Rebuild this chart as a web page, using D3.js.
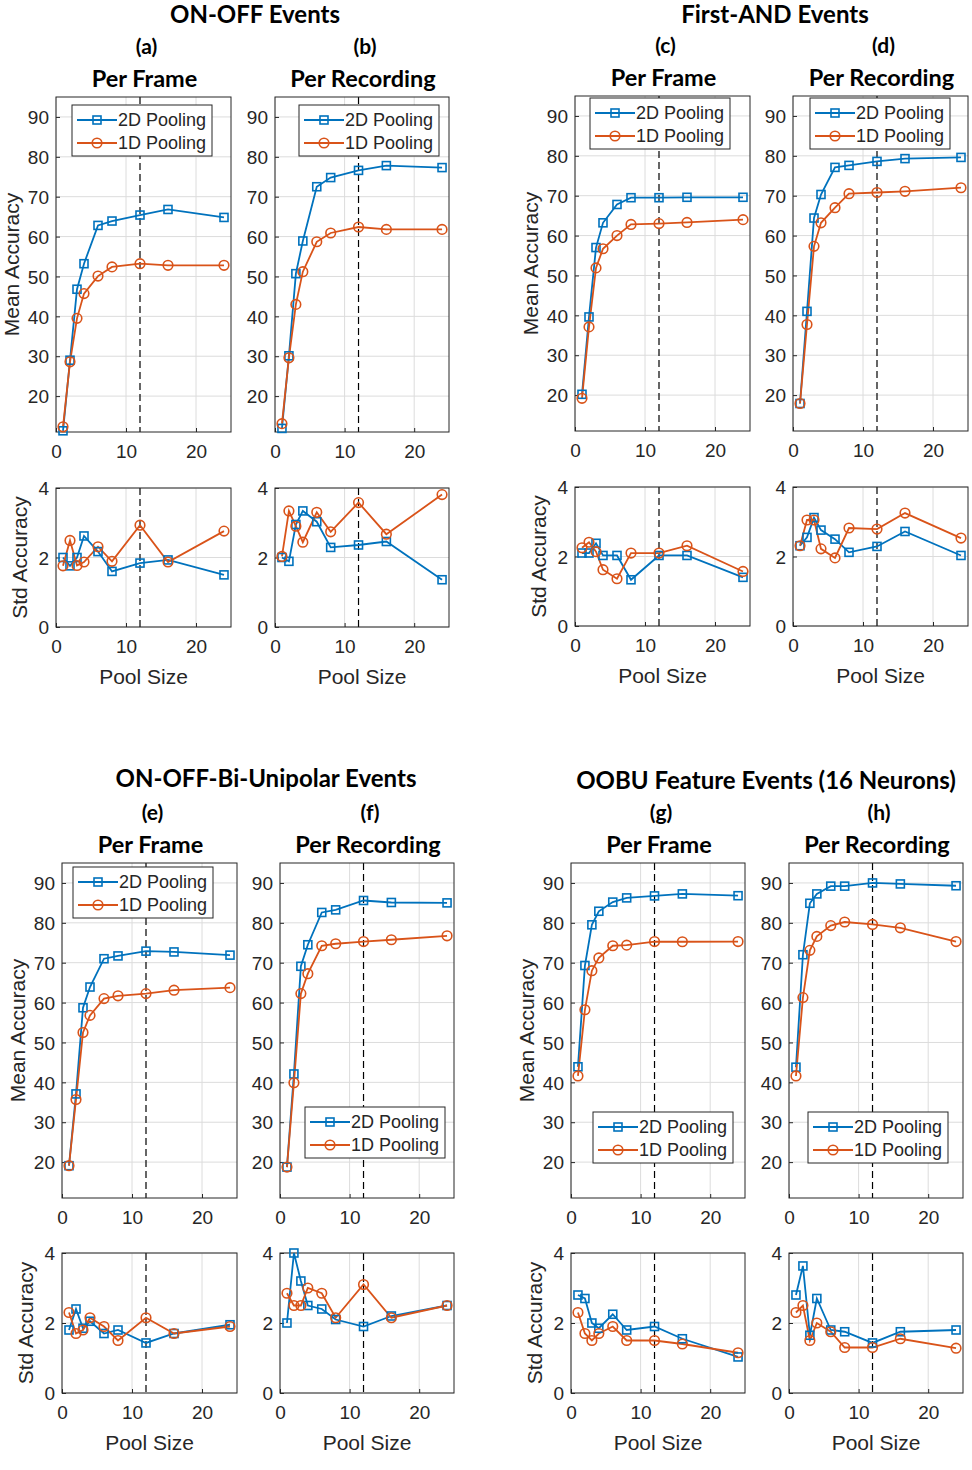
<!DOCTYPE html>
<html><head><meta charset="utf-8">
<script src="https://cdn.jsdelivr.net/npm/d3@7"></script>
<style>
body{margin:0;background:#fff;}
svg text{font-family:"Liberation Sans",Arial,sans-serif;fill:#262626;}
.ttl{font-family:Lato,"Open Sans",sans-serif !important;font-weight:700;fill:#000 !important;}
</style></head>
<body>
<svg id="c" width="972" height="1470"></svg>
<script>
// ---- data ----
const poolSizes = [1, 2, 3, 4, 6, 8, 12, 16, 24];
const seriesNames = ["2D Pooling", "1D Pooling"];
const meanTicks = [20, 30, 40, 50, 60, 70, 80, 90];
const stdTicks = [0, 2, 4];
const xTicks = [0, 10, 20];

const meanA2D = [11.3, 29.0, 46.8, 53.2, 62.8, 63.9, 65.4, 66.8, 64.8];
const meanA1D = [12.3, 28.6, 39.5, 45.7, 50.1, 52.4, 53.2, 52.8, 52.8];
const stdA2D  = [2.0, 1.76, 2.0, 2.62, 2.17, 1.6, 1.84, 1.93, 1.5];
const stdA1D  = [1.76, 2.49, 1.77, 1.87, 2.31, 1.89, 2.93, 1.87, 2.76];

const meanB2D = [11.9, 30.1, 50.7, 58.9, 72.5, 74.8, 76.6, 77.8, 77.3];
const meanB1D = [13.1, 29.6, 43.0, 51.2, 58.7, 60.9, 62.4, 61.8, 61.8];
const stdB2D  = [2.0, 1.89, 2.95, 3.34, 3.03, 2.29, 2.36, 2.46, 1.36];
const stdB1D  = [2.03, 3.34, 2.9, 2.44, 3.3, 2.74, 3.58, 2.67, 3.81];

const meanC2D = [20.2, 39.6, 57.0, 63.2, 67.8, 69.5, 69.5, 69.6, 69.6];
const meanC1D = [19.2, 37.1, 51.9, 56.7, 60.0, 62.8, 63.0, 63.3, 64.0];
const stdC2D  = [2.1, 2.1, 2.38, 2.03, 2.03, 1.33, 2.03, 2.03, 1.4];
const stdC1D  = [2.25, 2.41, 2.14, 1.62, 1.36, 2.1, 2.1, 2.31, 1.57];

const meanD2D = [17.9, 41.0, 64.4, 70.3, 77.1, 77.6, 78.6, 79.3, 79.6];
const meanD1D = [17.9, 37.7, 57.3, 63.2, 67.0, 70.5, 70.8, 71.1, 72.0];
const stdD2D  = [2.31, 2.55, 3.12, 2.76, 2.5, 2.12, 2.29, 2.72, 2.03];
const stdD1D  = [2.31, 3.05, 3.05, 2.22, 1.96, 2.82, 2.79, 3.25, 2.53];

const meanE2D = [19.1, 37.1, 58.7, 63.9, 71.0, 71.7, 72.9, 72.7, 71.9];
const meanE1D = [19.1, 35.7, 52.5, 56.8, 61.0, 61.7, 62.25, 63.1, 63.75];
const stdE2D  = [1.8, 2.4, 1.85, 2.05, 1.7, 1.8, 1.43, 1.7, 1.95];
const stdE1D  = [2.3, 1.7, 1.8, 2.15, 1.9, 1.5, 2.15, 1.7, 1.9];

const meanF2D = [18.75, 42.1, 69.1, 74.5, 82.6, 83.25, 85.6, 85.1, 85.0];
const meanF1D = [18.75, 39.9, 62.25, 67.25, 74.25, 74.75, 75.3, 75.75, 76.75];
const stdF2D  = [2.0, 4.0, 3.2, 2.5, 2.4, 2.1, 1.9, 2.2, 2.5];
const stdF1D  = [2.85, 2.5, 2.5, 3.0, 2.85, 2.15, 3.1, 2.15, 2.5];

const meanG2D = [43.9, 69.3, 79.5, 82.9, 85.2, 86.25, 86.75, 87.25, 86.8];
const meanG1D = [41.6, 58.2, 68.0, 71.2, 74.25, 74.4, 75.3, 75.25, 75.3];
const stdG2D  = [2.8, 2.7, 2.0, 1.85, 2.25, 1.8, 1.9, 1.55, 1.03];
const stdG1D  = [2.3, 1.7, 1.5, 1.7, 1.9, 1.5, 1.5, 1.4, 1.15];

const meanH2D = [43.8, 72.0, 84.9, 87.25, 89.2, 89.2, 90.0, 89.75, 89.3];
const meanH1D = [41.6, 61.25, 73.1, 76.6, 79.3, 80.2, 79.6, 78.75, 75.3];
const stdH2D  = [2.8, 3.63, 1.65, 2.7, 1.8, 1.75, 1.43, 1.75, 1.8];
const stdH1D  = [2.3, 2.5, 1.5, 2.0, 1.75, 1.3, 1.3, 1.55, 1.28];

const groupTitles = ["ON-OFF Events", "First-AND Events", "ON-OFF-Bi-Unipolar Events", "OOBU Feature Events (16 Neurons)"];
const panelLetters = ["(a)", "(b)", "(c)", "(d)", "(e)", "(f)", "(g)", "(h)"];
const panelSubtitles = ["Per Frame", "Per Recording"];
const optimalPool = 12;

// ---- layout ----
const colors = ["#0072BD", "#D95319"];
const panels = [
  {m:[meanA2D,meanA1D], s:[stdA2D,stdA1D], l:56,  r:231, t:97,  b:432, st:488, sb:627, lg:[72,105],  ylab:true},
  {m:[meanB2D,meanB1D], s:[stdB2D,stdB1D], l:275, r:449, t:97,  b:432, st:488, sb:627, lg:[299,105], ylab:false},
  {m:[meanC2D,meanC1D], s:[stdC2D,stdC1D], l:575, r:750, t:96,  b:431, st:487, sb:626, lg:[590,98],  ylab:true},
  {m:[meanD2D,meanD1D], s:[stdD2D,stdD1D], l:793, r:968, t:96,  b:431, st:487, sb:626, lg:[810,98],  ylab:false},
  {m:[meanE2D,meanE1D], s:[stdE2D,stdE1D], l:62,  r:237, t:863, b:1198, st:1253, sb:1393, lg:[73,867],  ylab:true},
  {m:[meanF2D,meanF1D], s:[stdF2D,stdF1D], l:280, r:454, t:863, b:1198, st:1253, sb:1393, lg:[305,1107], ylab:false},
  {m:[meanG2D,meanG1D], s:[stdG2D,stdG1D], l:571, r:745, t:863, b:1198, st:1253, sb:1393, lg:[593,1112], ylab:true},
  {m:[meanH2D,meanH1D], s:[stdH2D,stdH1D], l:789, r:963, t:863, b:1198, st:1253, sb:1393, lg:[808,1112], ylab:false}
];

const svg = d3.select("#c");

// titles
const gt = [[255,23],[775,23],[266,787],[766,789]];
groupTitles.forEach((t,i)=>svg.append("text").attr("class","ttl").attr("x",gt[i][0]).attr("y",gt[i][1])
  .attr("text-anchor","middle").style("font-size","24px").text(t));

function marker(g, type, cx, cy, col){
  if(type===0){
    g.append("rect").attr("x",cx-4).attr("y",cy-4).attr("width",8).attr("height",8)
      .attr("fill","none").attr("stroke",col).attr("stroke-width",1.6);
  } else {
    g.append("circle").attr("cx",cx).attr("cy",cy).attr("r",4.8)
      .attr("fill","none").attr("stroke",col).attr("stroke-width",1.6);
  }
}

function drawAxes(p, top, bottom, ydom, yt, vals){
  const x = d3.scaleLinear().domain([0,25]).range([p.l,p.r]);
  const y = d3.scaleLinear().domain(ydom).range([bottom,top]);
  const g = svg.append("g");
  // grid
  g.selectAll(".gx").data(xTicks).enter().append("line")
    .attr("x1",d=>x(d)).attr("x2",d=>x(d)).attr("y1",top).attr("y2",bottom)
    .attr("stroke","#dcdcdc").attr("stroke-width",1);
  g.selectAll(".gy").data(yt).enter().append("line")
    .attr("x1",p.l).attr("x2",p.r).attr("y1",d=>y(d)).attr("y2",d=>y(d))
    .attr("stroke","#dcdcdc").attr("stroke-width",1);
  // dashed optimum line
  g.append("line").attr("x1",x(optimalPool)).attr("x2",x(optimalPool)).attr("y1",top).attr("y2",bottom)
    .attr("stroke","#000").attr("stroke-width",1.2).attr("stroke-dasharray","7,4");
  // axes via d3
  const ax = g.append("g").attr("transform",`translate(0,${bottom})`)
    .call(d3.axisBottom(x).tickValues(xTicks).tickFormat(d3.format("d")).tickSize(-4).tickPadding(9));
  const ay = g.append("g").attr("transform",`translate(${p.l},0)`)
    .call(d3.axisLeft(y).tickValues(yt).tickFormat(d3.format("d")).tickSize(-4).tickPadding(7));
  [ax,ay].forEach(a=>{
    a.select(".domain").remove();
    a.selectAll("line").attr("stroke","#262626");
    a.selectAll("text").style("font-size","19px").attr("fill","#262626")
      .style("font-family","'Liberation Sans',Arial,sans-serif");
  });
  ax.selectAll("text").attr("dy","0.9em");
  ay.selectAll("text").attr("dy","0.35em");
  // box
  g.append("rect").attr("x",p.l).attr("y",top).attr("width",p.r-p.l).attr("height",bottom-top)
    .attr("fill","none").attr("stroke","#262626").attr("stroke-width",1);
  // series
  const line = d3.line().x((d,i)=>x(poolSizes[i])).y(d=>y(d));
  vals.forEach((s,k)=>{
    g.append("path").datum(s).attr("d",line).attr("fill","none")
      .attr("stroke",colors[k]).attr("stroke-width",1.8);
  });
  vals.forEach((s,k)=>{
    s.forEach((v,i)=>marker(g,k,x(poolSizes[i]),y(v),colors[k]));
  });
}

panels.forEach((p,i)=>{
  const cx = (p.l+p.r)/2;
  svg.append("text").attr("class","ttl").attr("x",cx+3).attr("y",p.t-43).attr("text-anchor","middle")
    .style("font-size","21px").text(panelLetters[i]);
  svg.append("text").attr("class","ttl").attr("x",cx+1).attr("y",p.t-10).attr("text-anchor","middle")
    .style("font-size","23.5px").text(panelSubtitles[i%2]);
  drawAxes(p, p.t, p.b, [11,95], meanTicks, p.m);
  drawAxes(p, p.st, p.sb, [0,4], stdTicks, p.s);
  svg.append("text").attr("x",cx).attr("y",p.sb+57).attr("text-anchor","middle")
    .style("font-size","21px").text("Pool Size");
  if(p.ylab){
    const ym=(p.t+p.b)/2, ys=(p.st+p.sb)/2;
    svg.append("text").attr("transform",`translate(${p.l-37},${ym}) rotate(-90)`).attr("text-anchor","middle")
      .style("font-size","21px").text("Mean Accuracy");
    svg.append("text").attr("transform",`translate(${p.l-29},${ys}) rotate(-90)`).attr("text-anchor","middle")
      .style("font-size","21px").text("Std Accuracy");
  }
  const [lx,ly] = p.lg;
  const lgd = svg.append("g");
  lgd.append("rect").attr("x",lx).attr("y",ly).attr("width",140).attr("height",51)
    .attr("fill","#fff").attr("stroke","#262626").attr("stroke-width",1);
  seriesNames.forEach((n,k)=>{
    const yy = ly+15+k*23;
    lgd.append("line").attr("x1",lx+5).attr("x2",lx+45).attr("y1",yy).attr("y2",yy)
      .attr("stroke",colors[k]).attr("stroke-width",1.8);
    marker(lgd,k,lx+25,yy,colors[k]);
    lgd.append("text").attr("x",lx+46).attr("y",yy).attr("dy","0.35em")
      .style("font-size","18px").text(n);
  });
});
</script>
</body></html>
